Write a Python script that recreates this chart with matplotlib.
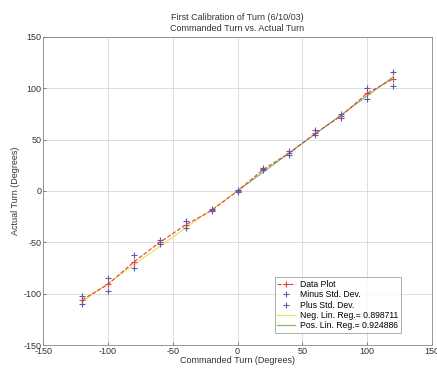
import matplotlib
matplotlib.use("Agg")
import matplotlib.pyplot as plt
import numpy as np

commanded = [-120, -100, -80, -60, -40, -20, 0, 20, 40, 60, 80, 100, 120]
actual = [-106, -91, -69, -50, -33, -19, 0, 21, 37, 56, 73, 95, 109]
minus_std = [-110, -97, -75, -52, -36, -20, -1, 20, 35, 54, 71, 90, 102]
plus_std = [-102, -85, -62, -48, -29, -18, 1, 22, 39, 59, 75, 100, 116]
neg_x = [-120, 0]
pos_x = [0, 120]
neg_slope = 0.898711
pos_slope = 0.924886
xticks = [-150, -100, -50, 0, 50, 100, 150]
yticks = [-150, -100, -50, 0, 50, 100, 150]

plt.rcParams['font.family'] = ['Liberation Sans', 'DejaVu Sans']
plt.rcParams['axes.unicode_minus'] = False
fig = plt.figure(figsize=(4.37, 3.69), dpi=100)
ax = fig.add_axes([0.099, 0.065, 0.889, 0.835])

ax.plot(commanded, actual, color='#e04040', linestyle='--', linewidth=0.8,
        marker='+', markersize=4.5, markeredgewidth=0.8, label='Data Plot', zorder=4)
ax.plot(commanded, minus_std, linestyle='none', marker='+', color='#5a5ab0',
        markersize=4.5, markeredgewidth=0.8, label='Minus Std. Dev.', zorder=5)
ax.plot(commanded, plus_std, linestyle='none', marker='+', color='#5a5ab0',
        markersize=4.5, markeredgewidth=0.8, label='Plus Std. Dev.', zorder=5)
nx = np.array(neg_x, dtype=float)
px = np.array(pos_x, dtype=float)
ax.plot(nx, neg_slope * nx, color='#f0e060', linewidth=0.9,
        label='Neg. Lin. Reg.= 0.898711', zorder=3)
ax.plot(px, pos_slope * px, color='#80c060', linewidth=0.9,
        label='Pos. Lin. Reg.= 0.924886', zorder=3)

ax.set_xlim(-150, 150)
ax.set_ylim(-150, 150)
ax.set_xticks(xticks)
ax.set_yticks(yticks)
ax.grid(True, color='#d8d8d8', linewidth=0.6)
ax.set_axisbelow(True)
ax.tick_params(labelsize=6.5, direction='in', length=2, colors='#555555',
               labelcolor='#333333', width=0.5, pad=1.5)
for s in ax.spines.values():
    s.set_color('#888888')
    s.set_linewidth(0.6)
ax.set_xlabel('Commanded Turn (Degrees)', fontsize=6.5, labelpad=0, color='#333333')
ax.set_ylabel('Actual Turn (Degrees)', fontsize=6.5, labelpad=2, color='#333333')
ax.set_title('First Calibration of Turn (6/10/03)\nCommanded Turn vs. Actual Turn',
             fontsize=6.5, color='#333333', pad=4, linespacing=1.3)

leg = ax.legend(loc='lower right', bbox_to_anchor=(0.92, 0.04), fontsize=6.2,
                frameon=True, fancybox=False, edgecolor='#888888',
                borderpad=0.3, labelspacing=0.15, handlelength=2.0,
                handletextpad=0.6, borderaxespad=0)
leg.get_frame().set_linewidth(0.6)

fig.savefig('out.png', dpi=100)
